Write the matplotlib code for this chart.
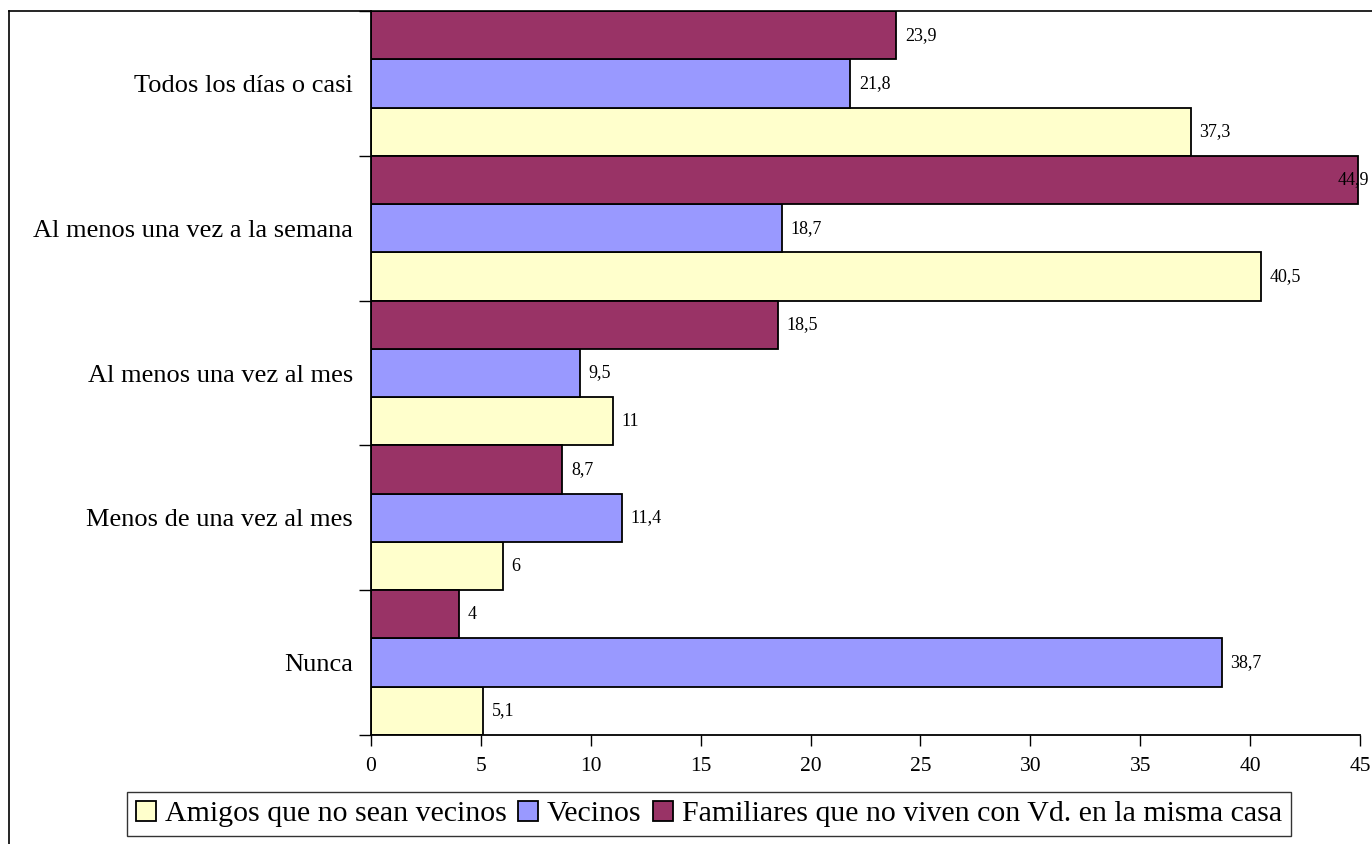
import numpy as np
import matplotlib.pyplot as plt
from matplotlib.patches import Patch
from matplotlib.lines import Line2D

plt.rcParams['font.family'] = ['Liberation Serif', 'DejaVu Serif']

categorias = ['Todos los días o casi', 'Al menos una vez a la semana',
              'Al menos una vez al mes', 'Menos de una vez al mes', 'Nunca']
amigos = [37.3, 40.5, 11, 6, 5.1]
vecinos = [21.8, 18.7, 9.5, 11.4, 38.7]
familiares = [23.9, 44.9, 18.5, 8.7, 4]
series = ['Amigos que no sean vecinos', 'Vecinos',
          'Familiares que no viven con Vd. en la misma casa']
colores = ['#FFFFCC', '#9999FF', '#993366']

fig = plt.figure(figsize=(13.72, 8.44), dpi=100)
ax = fig.add_axes([371 / 1372, 1 - 735 / 844, (1360 - 371) / 1372, (735 - 11) / 844])

y = np.arange(len(categorias))
h = 1 / 3
datos = [amigos, vecinos, familiares]
offs = [h, 0, -h]
for vals, col, off in zip(datos, colores, offs):
    bars = ax.barh(y + off, vals, height=h, color=col, edgecolor='black', linewidth=1.3)
    for b, v in zip(bars, vals):
        txt = ('%g' % v).replace('.', ',')
        # la etiqueta no cabe a la derecha de la barra mas larga
        ax.text(min(v + 0.4, 44.0), b.get_y() + h / 2, txt, va='center', ha='left',
                fontsize=13, clip_on=False)

ax.set_ylim(len(categorias) - 0.5, -0.5)
ax.set_xlim(0, 45)
ax.set_xticks(range(0, 46, 5))
ax.tick_params(axis='x', direction='out', length=8, width=1, labelsize=15.5, pad=8)
ax.set_yticks(y)
ax.set_yticklabels(categorias, fontsize=19)
ax.tick_params(axis='y', which='major', length=0, pad=13)
ax.set_yticks(np.arange(-0.5, len(categorias), 1), minor=True)
ax.tick_params(axis='y', which='minor', direction='out', length=9, width=1)

ax.spines['top'].set_visible(False)
ax.spines['right'].set_visible(False)
ax.spines['left'].set_linewidth(1.3)
ax.spines['bottom'].set_linewidth(1.3)

# marco exterior
fig.add_artist(Line2D([9 / 1372, 9 / 1372], [0, 1 - 11 / 844], transform=fig.transFigure,
                      color='black', linewidth=1.2))
fig.add_artist(Line2D([9 / 1372, 1], [1 - 11 / 844, 1 - 11 / 844], transform=fig.transFigure,
                      color='black', linewidth=1.2))

handles = [Patch(facecolor=c, edgecolor='black', linewidth=1.3) for c in colores]
leg = fig.legend(handles, series, loc='center', bbox_to_anchor=(709 / 1372, 1 - 814 / 844),
                 ncol=3, fontsize=21.5, frameon=True, fancybox=False, edgecolor='black',
                 handlelength=0.65, handleheight=0.65, handletextpad=0.3, columnspacing=0.4,
                 borderpad=0.3)
leg.get_frame().set_linewidth(1.0)

fig.savefig('out.png', dpi=100)
